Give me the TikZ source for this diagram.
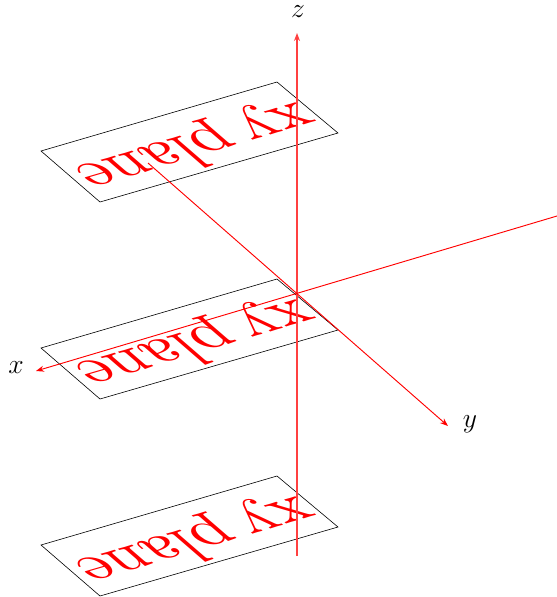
\documentclass[tikz,border=0pt]{standalone}
\usetikzlibrary{arrows.meta}
\tikzset{
  px/.style={x=0.75pt,y=-0.75pt},
  planeedge/.style={draw=black,line width=0.45pt},
  axisline/.style={draw=red,line width=0.7pt,-{Stealth[length=6pt,width=4.5pt]}},
  axislabel/.style={font=\fontsize{20}{24}\selectfont,text=black,inner sep=0pt},
  planetext/.style={text=red,inner sep=0pt,transform shape,font=\fontsize{10}{12}\selectfont}
}
\newcommand{\xyplane}[2]{%
  \coordinate (#1a) at (41,#2+151);
  \coordinate (#1b) at (277,#2+82);
  \coordinate (#1c) at (338,#2+133);
  \coordinate (#1d) at (100,#2+202);
  \draw[planeedge] (#1a) -- (#1b) -- (#1c) -- (#1d) -- cycle;
  \begin{scope}[shift={(196,#2+146)}]
  \pgftransformcm{-4.7}{-1.37}{3.7}{-3.2}{\pgfpoint{0pt}{0pt}}
  \node[planetext,anchor=center] (#1t) at (0,0) {\spaceskip=2pt\relax xy plane};
  \end{scope}
}
\begin{document}
\begin{tikzpicture}[px]
\useasboundingbox (0,0) rectangle (557,597);
\xyplane{p}{0}
\xyplane{q}{197}
\xyplane{r}{394}
\coordinate (zs) at (297,556);
\coordinate (ze) at (297,33);
\coordinate (xs) at (557,216);
\coordinate (xe) at (36,371);
\coordinate (ys) at (148,163);
\coordinate (ye) at (448,426);
\draw[axisline,line width=1pt,draw=red!75!white] (zs) -- (ze);
\draw[axisline] (xs) -- (xe);
\draw[axisline] (ys) -- (ye);
\node[axislabel] (zl) at (298,12) {$z$};
\node[axislabel] (xl) at (16,368) {$x$};
\node[axislabel] (yl) at (470,424) {$y$};
\end{tikzpicture}
\end{document}
